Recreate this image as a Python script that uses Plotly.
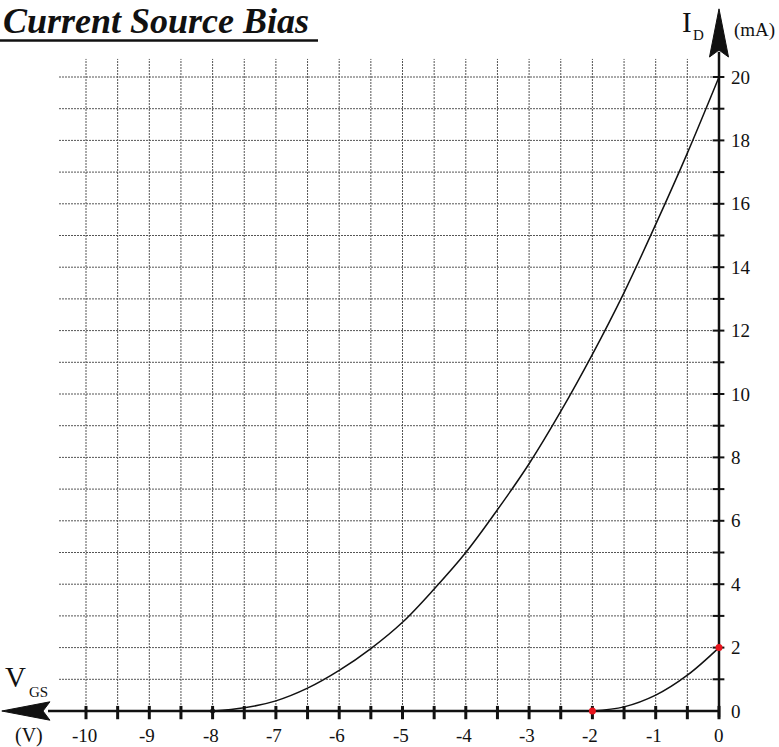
import plotly.graph_objects as go

# JFET transfer characteristic (upper curve) and the current-source bias curve (lower)
vgs_a = [-8, -7.5, -7, -6.5, -6, -5.5, -5, -4.5, -4, -3.5, -3, -2.5, -2, -1.5, -1, -0.5, 0]
id_a = [0, 0.1, 0.32, 0.72, 1.28, 1.97, 2.8, 3.85, 5.0, 6.35, 7.8, 9.45, 11.25, 13.2, 15.35, 17.6, 20.0]

vgs_b = [-2, -1.5, -1, -0.5, 0]
id_b = [0, 0.13, 0.5, 1.13, 2.0]

x_tick_vals = [-10, -9, -8, -7, -6, -5, -4, -3, -2, -1, 0]
y_tick_vals = [0, 2, 4, 6, 8, 10, 12, 14, 16, 18, 20]

W, H = 779, 747
X0PX, XS = 719, 63.3   # pixel column of V=0 and pixels per volt
Y0PX, YS = 711, 31.7   # pixel row of I=0 and pixels per mA
xr = [-X0PX / XS, (W - X0PX) / XS]
yr = [-(H - Y0PX) / YS, Y0PX / YS]


def px(x):
    return x / W


def py(y):
    return 1 - y / H


GRID = dict(color="#555555", width=1, dash="2px,1px")
FONT = "Liberation Serif"
INK = "#111"

shapes = []
# dotted grid, half-volt columns and 1 mA rows
x_left = xr[0] + 59 / XS
y_top = 20.57
for k in range(-20, 0):
    shapes.append(dict(type="line", x0=k * 0.5, x1=k * 0.5, y0=0, y1=y_top, line=GRID, layer="below"))
for j in range(1, 21):
    shapes.append(dict(type="line", x0=x_left, x1=0, y0=j, y1=j, line=GRID, layer="below"))

# axes
shapes.append(dict(type="line", x0=-10.6, x1=0, y0=0, y1=0, line=dict(color=INK, width=2.5), layer="below"))
shapes.append(dict(type="line", x0=0, x1=0, y0=-0.2, y1=20.8, line=dict(color=INK, width=2.5), layer="below"))

# tick marks
for k in range(-20, 1):
    shapes.append(dict(type="line", x0=k * 0.5, x1=k * 0.5, y0=-0.26, y1=0.16,
                       line=dict(color=INK, width=3), layer="below"))
for j in range(1, 21):
    shapes.append(dict(type="line", x0=-0.1, x1=0.085, y0=j, y1=j,
                       line=dict(color=INK, width=2), layer="below"))

# arrowheads
xt, xb, xn, hh = -11.33, -10.57, -10.68, 0.29
shapes.append(dict(type="path", path=f"M {xt} 0 L {xb} {hh} L {xn} 0 L {xb} {-hh} Z",
                   fillcolor=INK, line=dict(color=INK, width=1), layer="below"))
yt, yb, yn, hw = 22.15, 20.63, 20.85, 0.15
shapes.append(dict(type="path", path=f"M 0 {yt} L {hw} {yb} L 0 {yn} L {-hw} {yb} Z",
                   fillcolor=INK, line=dict(color=INK, width=1), layer="below"))

# title underline
shapes.append(dict(type="line", xref="paper", yref="paper", x0=0, x1=px(318), y0=py(40.5), y1=py(40.5),
                   line=dict(color=INK, width=2.5)))

fig = go.Figure()
fig.add_trace(go.Scatter(x=vgs_a, y=id_a, mode="lines", line=dict(color=INK, width=1.5, shape="spline"),
                         hoverinfo="skip"))
fig.add_trace(go.Scatter(x=vgs_b, y=id_b, mode="lines", line=dict(color=INK, width=1.5, shape="spline"),
                         hoverinfo="skip"))
fig.add_trace(go.Scatter(x=[vgs_a[0]], y=[id_a[0]], mode="markers",
                         marker=dict(color=INK, size=5), hoverinfo="skip"))
fig.add_trace(go.Scatter(x=[vgs_b[0], vgs_b[-1]], y=[id_b[0], id_b[-1]], mode="markers",
                         marker=dict(color="#e8141c", size=7), hoverinfo="skip"))

ann = []
for v in x_tick_vals:
    ann.append(dict(x=v, y=0, xref="x", yref="y", text=str(v), showarrow=False,
                    xanchor="center", yanchor="middle", yshift=-24, xshift=-2 if v < 0 else 0,
                    font=dict(family=FONT, size=19, color=INK)))
for v in y_tick_vals:
    ann.append(dict(x=0, y=v, xref="x", yref="y", text=str(v), showarrow=False,
                    xanchor="left", yanchor="middle", xshift=10,
                    font=dict(family=FONT, size=19, color=INK)))

ann.append(dict(x=px(1), y=py(21), xref="paper", yref="paper", text="<b><i>Current Source Bias</i></b>",
                showarrow=False, xanchor="left", yanchor="middle",
                font=dict(family=FONT, size=36, color=INK)))
ann.append(dict(x=px(16), y=py(677), xref="paper", yref="paper", text="V", showarrow=False,
                xanchor="center", yanchor="middle", font=dict(family=FONT, size=29, color=INK)))
ann.append(dict(x=px(38), y=py(692), xref="paper", yref="paper", text="GS", showarrow=False,
                xanchor="center", yanchor="middle", font=dict(family=FONT, size=15, color=INK)))
ann.append(dict(x=px(29), y=py(735), xref="paper", yref="paper", text="(V)", showarrow=False,
                xanchor="center", yanchor="middle", font=dict(family=FONT, size=20, color=INK)))
ann.append(dict(x=px(687), y=py(22), xref="paper", yref="paper", text="I", showarrow=False,
                xanchor="center", yanchor="middle", font=dict(family=FONT, size=29, color=INK)))
ann.append(dict(x=px(698), y=py(35), xref="paper", yref="paper", text="D", showarrow=False,
                xanchor="center", yanchor="middle", font=dict(family=FONT, size=15, color=INK)))
ann.append(dict(x=px(732), y=py(30), xref="paper", yref="paper", text="(mA)", showarrow=False,
                xanchor="left", yanchor="middle", font=dict(family=FONT, size=19, color=INK)))

fig.update_layout(
    width=W, height=H, margin=dict(l=0, r=0, t=0, b=0),
    paper_bgcolor="white", plot_bgcolor="white", showlegend=False,
    xaxis=dict(range=xr, visible=False, fixedrange=True),
    yaxis=dict(range=yr, visible=False, fixedrange=True),
    shapes=shapes, annotations=ann,
)

fig.write_html("out.html")
